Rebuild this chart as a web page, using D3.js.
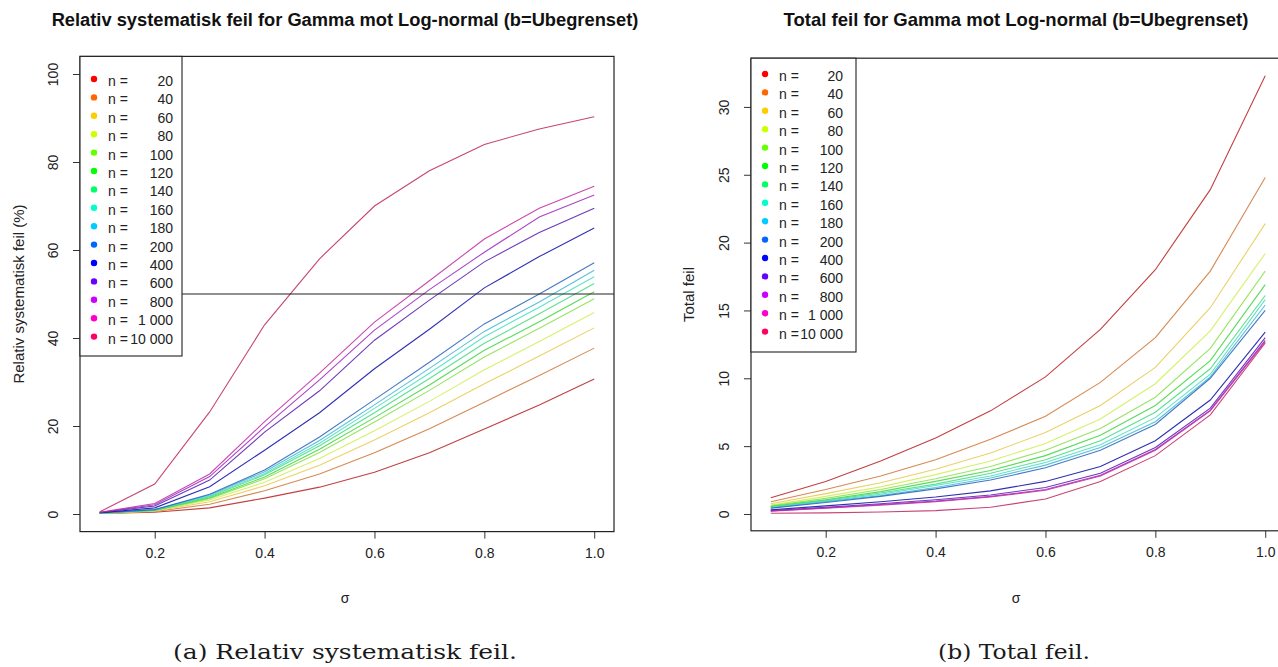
<!DOCTYPE html>
<html>
<head>
<meta charset="utf-8">
<script src="https://cdn.jsdelivr.net/npm/d3@7/dist/d3.min.js"></script>
<style>
  html, body { margin: 0; padding: 0; background: #fff; }
  svg { display: block; font-family: "Liberation Sans", Arial, sans-serif; }
</style>
</head>
<body>
<svg id="chart" width="1278" height="667"></svg>
<script>
// σ values on the horizontal axis
const sigma = [0.1, 0.2, 0.3, 0.4, 0.5, 0.6, 0.7, 0.8, 0.9, 1.0];

// sample sizes and their legend labels
const sampleSizes = [20, 40, 60, 80, 100, 120, 140, 160, 180, 200, 400, 600, 800, 1000, 10000];
const sizeLabels = ["20", "40", "60", "80", "100", "120", "140", "160", "180", "200", "400", "600", "800", "1 000", "10 000"];

// rainbow(15) palette
const palette = ["#FF0000", "#FF6600", "#FFCC00", "#CCFF00", "#66FF00", "#00FF00", "#00FF66", "#00FFCC",
                 "#00CCFF", "#0066FF", "#0000FF", "#6600FF", "#CC00FF", "#FF00CC", "#FF0066"];

// relative systematic error (%) for each sample size
const relN20    = [0.1, 0.4, 1.4, 3.6, 6.1, 9.5, 13.9, 19.3, 24.8, 30.7];
const relN40    = [0.1, 0.56, 2.2, 5.3, 9.1, 13.9, 19.4, 25.4, 31.5, 37.7];
const relN60    = [0.15, 0.66, 2.8, 6.4, 11.1, 16.8, 23.0, 29.6, 35.9, 42.3];
const relN80    = [0.15, 0.74, 3.2, 7.2, 12.6, 18.9, 25.6, 32.8, 39.2, 45.8];
const relN100   = [0.2, 0.81, 3.5, 8.0, 14.0, 20.9, 28.1, 35.7, 42.2, 48.9];
const relN120   = [0.2, 0.85, 3.7, 8.4, 14.7, 21.9, 29.3, 37.2, 43.7, 50.5];
const relN140   = [0.2, 0.89, 3.9, 8.9, 15.5, 23.0, 30.8, 38.8, 45.5, 52.4];
const relN160   = [0.2, 0.93, 4.1, 9.2, 16.1, 24.0, 32.0, 40.3, 47.0, 53.9];
const relN180   = [0.25, 0.96, 4.3, 9.6, 16.7, 24.8, 33.1, 41.5, 48.2, 55.4];
const relN200   = [0.25, 1.0, 4.5, 10.0, 17.5, 26.0, 34.5, 43.2, 50.0, 57.1];
const relN400   = [0.3, 1.4, 6.2, 14.5, 23.0, 33.0, 42.0, 51.4, 58.5, 65.0];
const relN600   = [0.35, 1.8, 7.7, 18.6, 28.0, 39.5, 48.6, 57.3, 64.0, 69.5];
const relN800   = [0.35, 2.1, 8.5, 19.8, 30.5, 41.8, 51.0, 59.5, 67.5, 72.5];
const relN1000  = [0.4, 2.4, 9.1, 21.0, 32.0, 43.6, 53.0, 62.5, 69.5, 74.5];
const relN10000 = [0.5, 6.8, 23.2, 43.0, 58.0, 70.0, 78.0, 84.0, 87.5, 90.3];

// total error for each sample size
const totN20    = [1.2, 2.4, 3.9, 5.6, 7.6, 10.1, 13.6, 18.0, 23.9, 32.3];
const totN40    = [0.9, 1.8, 2.8, 4.0, 5.5, 7.2, 9.7, 13.0, 17.9, 24.8];
const totN60    = [0.75, 1.5, 2.3, 3.3, 4.5, 6.0, 8.0, 10.8, 15.2, 21.4];
const totN80    = [0.65, 1.3, 2.0, 2.9, 3.9, 5.2, 7.0, 9.6, 13.5, 19.2];
const totN100   = [0.6, 1.15, 1.8, 2.6, 3.5, 4.7, 6.3, 8.6, 12.2, 17.9];
const totN120   = [0.55, 1.05, 1.65, 2.4, 3.2, 4.3, 5.8, 8.0, 11.3, 16.9];
const totN140   = [0.5, 1.0, 1.55, 2.2, 3.0, 4.0, 5.4, 7.5, 10.7, 16.1];
const totN160   = [0.47, 0.95, 1.45, 2.1, 2.8, 3.8, 5.1, 7.1, 10.3, 15.8];
const totN180   = [0.44, 0.9, 1.35, 1.95, 2.65, 3.6, 4.9, 6.8, 10.1, 15.4];
const totN200   = [0.42, 0.85, 1.3, 1.85, 2.5, 3.4, 4.7, 6.6, 10.0, 15.0];
const totN400   = [0.3, 0.6, 0.9, 1.25, 1.7, 2.4, 3.5, 5.4, 8.4, 13.4];
const totN600   = [0.25, 0.5, 0.75, 1.05, 1.4, 1.95, 3.0, 4.9, 7.8, 13.0];
const totN800   = [0.22, 0.45, 0.7, 0.95, 1.3, 1.8, 2.85, 4.75, 7.65, 12.8];
const totN1000  = [0.2, 0.42, 0.65, 0.9, 1.25, 1.75, 2.8, 4.7, 7.6, 12.7];
const totN10000 = [0.05, 0.08, 0.15, 0.25, 0.5, 1.1, 2.4, 4.3, 7.3, 12.6];

// axis ticks
const xTicks = [0.2, 0.4, 0.6, 0.8, 1.0];
const relTicks = [0, 20, 40, 60, 80, 100];
const totTicks = [0, 5, 10, 15, 20, 25, 30];

const relSeries = [relN20, relN40, relN60, relN80, relN100, relN120, relN140, relN160, relN180, relN200,
                   relN400, relN600, relN800, relN1000, relN10000];
const totSeries = [totN20, totN40, totN60, totN80, totN100, totN120, totN140, totN160, totN180, totN200,
                   totN400, totN600, totN800, totN1000, totN10000];

// thin lines lose part of their chroma: blend each hue toward a grey of equal luma
function muted(hex, amount) {
  const c = d3.rgb(hex);
  const luma = 0.299 * c.r + 0.587 * c.g + 0.114 * c.b;
  const m = v => Math.round(v * (1 - amount) + luma * amount);
  return d3.rgb(m(c.r), m(c.g), m(c.b)).formatHex();
}
const linePalette = palette.map(c => muted(c, 0.4));

const svg = d3.select("#chart");
const SANS = "Liberation Sans, Arial, sans-serif";
const SERIF = "DejaVu Serif, Liberation Serif, serif";

// R-style 4% padding around a domain
function padded(lo, hi) {
  const p = (hi - lo) * 0.04;
  return [lo - p, hi + p];
}

function drawPanel(opt) {
  const g = svg.append("g");
  const x = d3.scaleLinear().domain(padded(d3.min(sigma), d3.max(sigma))).range([opt.left, opt.right]);
  const y = d3.scaleLinear().domain(padded(opt.yMin, opt.yMax)).range([opt.bottom, opt.top]);

  // title
  g.append("text")
    .attr("x", (opt.left + opt.right) / 2 - 2).attr("y", 26)
    .attr("text-anchor", "middle")
    .style("font-family", SANS)
    .attr("font-weight", "bold").attr("font-size", opt.titleSize).attr("fill", "#111")
    .text(opt.title);

  // data lines
  const line = d3.line().x((d, i) => x(sigma[i])).y(d => y(d));
  g.append("g").selectAll("path").data(opt.series).join("path")
    .attr("d", d => line(d))
    .attr("fill", "none")
    .attr("stroke", (d, i) => linePalette[i])
    .attr("stroke-width", 1.1)
    .attr("stroke-opacity", 0.85);

  // reference line
  if (opt.hLine !== undefined) {
    g.append("line")
      .attr("x1", opt.left).attr("x2", opt.right)
      .attr("y1", y(opt.hLine)).attr("y2", y(opt.hLine))
      .attr("stroke", "#222").attr("stroke-width", 1);
  }

  // x axis
  const xAxis = d3.axisBottom(x).tickValues(xTicks).tickFormat(d3.format(".1f")).tickSize(7).tickPadding(9);
  const gx = g.append("g").attr("transform", `translate(0,${opt.bottom})`).call(xAxis);
  gx.select(".domain").remove();
  gx.selectAll("line").attr("stroke", "#333");
  gx.selectAll("text").attr("font-size", 14).attr("fill", "#222").style("font-family", SANS);

  // y axis with labels parallel to the axis
  const yAxis = d3.axisLeft(y).tickValues(opt.yTicks).tickSize(7).tickFormat(d3.format("d"));
  const gy = g.append("g").attr("transform", `translate(${opt.left},0)`).call(yAxis);
  gy.select(".domain").remove();
  gy.selectAll("line").attr("stroke", "#333");
  gy.selectAll("text")
    .attr("font-size", 14).attr("fill", "#222")
    .style("font-family", SANS)
    .attr("x", null).attr("dy", null)
    .attr("text-anchor", "middle")
    .attr("dominant-baseline", "central")
    .attr("transform", "translate(-27,0) rotate(-90)");

  // frame
  g.append("rect")
    .attr("x", opt.left).attr("y", opt.top)
    .attr("width", opt.right - opt.left).attr("height", opt.bottom - opt.top)
    .attr("fill", "none").attr("stroke", "#222").attr("stroke-width", 1.2);

  // axis titles
  g.append("text")
    .attr("x", (opt.left + opt.right) / 2 - 2).attr("y", 598)
    .attr("text-anchor", "middle").attr("dominant-baseline", "central")
    .style("font-family", SANS)
    .attr("font-size", 14).attr("fill", "#222")
    .text("σ");
  g.append("text")
    .attr("transform", `translate(${opt.yTitleX},${(opt.top + opt.bottom) / 2}) rotate(-90)`)
    .attr("text-anchor", "middle").attr("dominant-baseline", "central")
    .style("font-family", SANS)
    .attr("font-size", 15).attr("fill", "#222")
    .text(opt.yTitle);

  // legend
  const lg = g.append("g");
  lg.append("rect")
    .attr("x", opt.left).attr("y", opt.top)
    .attr("width", opt.legendWidth).attr("height", opt.legendBottom - opt.top)
    .attr("fill", "#fff").attr("stroke", "#222").attr("stroke-width", 1.1);
  const rows = lg.selectAll("g.row").data(sampleSizes).join("g")
    .attr("class", "row")
    .attr("transform", (d, i) => `translate(0,${opt.legendFirst + i * opt.legendStep})`);
  rows.append("circle")
    .attr("cx", opt.left + 14).attr("cy", -2).attr("r", 3.2)
    .attr("fill", (d, i) => palette[i]);
  rows.append("text")
    .attr("x", opt.left + 28).attr("dominant-baseline", "central")
    .style("font-family", SANS)
    .attr("font-size", 14).attr("fill", "#222")
    .text("n =");
  rows.append("text")
    .attr("x", opt.left + opt.legendNumRight).attr("dominant-baseline", "central")
    .attr("text-anchor", "end")
    .style("font-family", SANS)
    .attr("font-size", 14).attr("fill", "#222")
    .text((d, i) => sizeLabels[i]);

  // caption under the panel
  svg.append("text")
    .attr("x", opt.captionX).attr("y", 652)
    .attr("text-anchor", "middle").attr("dominant-baseline", "central")
    .style("font-family", SERIF)
    .attr("font-size", 20).attr("fill", "#1a1a1a")
    .attr("textLength", opt.captionWidth).attr("lengthAdjust", "spacingAndGlyphs")
    .text(opt.caption);
}

drawPanel({
  title: "Relativ systematisk feil for Gamma mot Log-normal (b=Ubegrenset)",
  titleSize: 18.3,
  series: relSeries,
  yMin: 0, yMax: 100,
  yTicks: relTicks,
  hLine: 50,
  left: 80, right: 614, top: 56.4, bottom: 531.6,
  yTitle: "Relativ systematisk feil (%)", yTitleX: 18,
  legendWidth: 102, legendBottom: 356, legendFirst: 81, legendStep: 18.4, legendNumRight: 93,
  caption: "(a) Relativ systematisk feil.", captionX: 345, captionWidth: 344
});

drawPanel({
  title: "Total feil for Gamma mot Log-normal (b=Ubegrenset)",
  titleSize: 18.5,
  series: totSeries,
  yMin: d3.min(totSeries, s => d3.min(s)), yMax: d3.max(totSeries, s => d3.max(s)),
  yTicks: totTicks,
  left: 751, right: 1285, top: 58.2, bottom: 530.8,
  yTitle: "Total feil", yTitleX: 688,
  legendWidth: 105, legendBottom: 352, legendFirst: 76, legendStep: 18.4, legendNumRight: 92,
  caption: "(b) Total feil.", captionX: 1014, captionWidth: 152
});
</script>
</body>
</html>
